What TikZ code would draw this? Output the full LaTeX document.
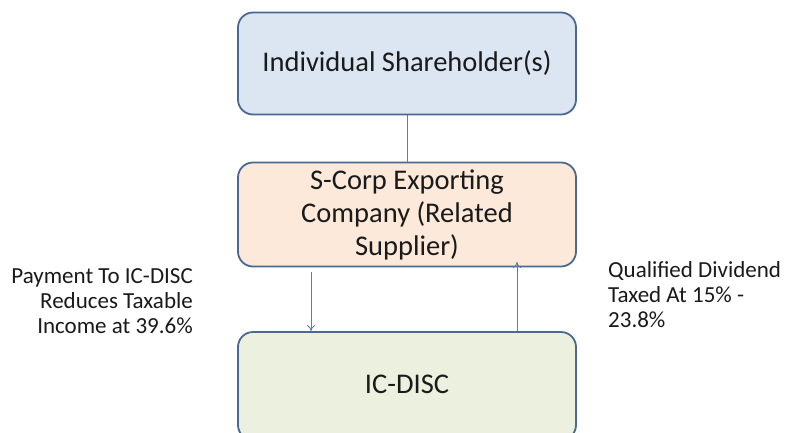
\documentclass[tikz,border=0pt]{standalone}
\usepackage{fontspec}
\setmainfont{Carlito}
\usetikzlibrary{arrows.meta}
\definecolor{bordc}{HTML}{4A6890}
\definecolor{arrc}{HTML}{5B7DB0}
\definecolor{fillA}{HTML}{DCE6F2}
\definecolor{fillB}{HTML}{FDE9D9}
\definecolor{fillC}{HTML}{EBF1DE}
\definecolor{txt}{HTML}{1A1A1A}
\begin{document}
\begin{tikzpicture}[x=1pt,y=-1pt,
  boxstyle/.style={draw=bordc, line width=1.8pt, rounded corners=15pt,
    minimum width=338pt, inner sep=0pt, text=txt, font=\fontsize{28.5}{33}\selectfont, align=center},
  lab/.style={text=txt, font=\fontsize{23}{25}\selectfont, inner sep=0pt},
  conn/.style={draw=arrc, line width=0.9pt},
  arr/.style={conn, -{To[length=6pt,width=8pt]}}]
\useasboundingbox (0,0) rectangle (793,432);
\clip (0,0) rectangle (793,432);
\node[boxstyle, fill=fillA, minimum height=102pt] (b1) at (407,63.5) {Individual Shareholder(s)};
\node[boxstyle, fill=fillB, minimum height=104pt] (b2) at (407,214.5) {S-Corp Exporting\\Company (Related\\Supplier)};
\node[boxstyle, fill=fillC, minimum height=108pt] (b3) at (407,386) {};
\node[text=txt, font=\fontsize{28.5}{33}\selectfont, inner sep=0pt, anchor=base] (b3t) at (407,393) {IC-DISC};
\draw[conn] (b1.south) -- (b2.north);
\coordinate (d1) at (311,272);
\coordinate (u1) at (517,262);
\draw[arr] (d1) -- (d1 |- b3.north);
\draw[arr] (u1 |- b3.north) -- (u1);
\node[lab, anchor=north east, align=right] (l1) at (193,268) {Payment To IC-DISC\\Reduces Taxable\\Income at 39.6\%};
\node[lab, anchor=north west, align=left] (l2) at (608,261) {Qualified Dividend\\Taxed At 15\% -\\23.8\%};
\end{tikzpicture}
\end{document}
